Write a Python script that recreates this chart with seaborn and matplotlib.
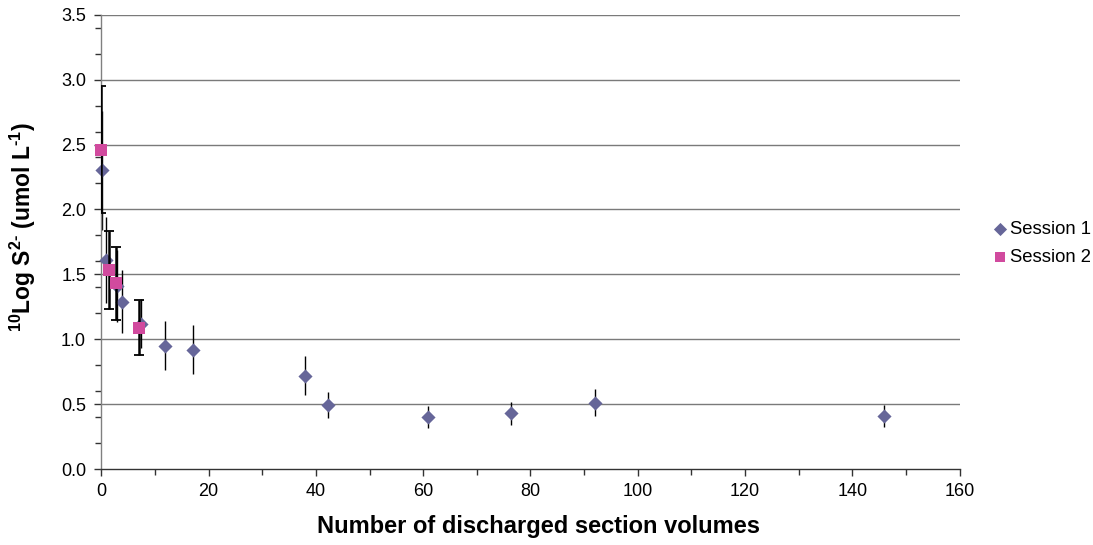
import matplotlib
matplotlib.use("Agg")
import matplotlib.pyplot as plt
from matplotlib.ticker import MultipleLocator, FormatStrFormatter
import seaborn as sns
import pandas as pd

# Sulphide concentration versus flushed section volumes, two sampling sessions
session1_x = [0.1, 0.9, 2.95, 3.9, 7.4, 11.85, 17.1, 38.0, 42.2, 60.9, 76.4, 92.1, 145.9]
session1_y = [2.30, 1.61, 1.41, 1.29, 1.12, 0.95, 0.92, 0.72, 0.49, 0.40, 0.43, 0.51, 0.41]
session1_err = [0.46, 0.33, 0.28, 0.24, 0.19, 0.19, 0.19, 0.15, 0.10, 0.083, 0.09, 0.105, 0.083]

session2_x = [0.0, 1.4, 2.65, 7.1]
session2_y = [2.46, 1.53, 1.43, 1.09]
session2_err = [0.49, 0.30, 0.28, 0.215]

series_names = ["Session 1", "Session 2"]
x_ticks = [0, 20, 40, 60, 80, 100, 120, 140, 160]
y_ticks = [0.0, 0.5, 1.0, 1.5, 2.0, 2.5, 3.0, 3.5]

df = pd.concat([
    pd.DataFrame({"x": session1_x, "y": session1_y, "err": session1_err, "session": series_names[0]}),
    pd.DataFrame({"x": session2_x, "y": session2_y, "err": session2_err, "session": series_names[1]}),
], ignore_index=True)

sns.set_style("white")
plt.rcParams["font.family"] = ["Liberation Sans", "DejaVu Sans"]
plt.rcParams["text.color"] = "black"
plt.rcParams["axes.labelcolor"] = "black"
plt.rcParams["xtick.labelcolor"] = "black"
plt.rcParams["ytick.labelcolor"] = "black"
plt.rcParams["mathtext.fontset"] = "custom"
plt.rcParams["mathtext.rm"] = "Liberation Sans:bold"
plt.rcParams["mathtext.bf"] = "Liberation Sans:bold"

fig = plt.figure(figsize=(10.93, 5.45), dpi=100)
ax = fig.add_axes([0.0927, 0.1394, 0.7853, 0.8336])

palette = {"Session 1": "#666699", "Session 2": "#D14A9E"}
markers = {"Session 1": "D", "Session 2": "s"}
sizes = {"Session 1": 7.2, "Session 2": 9.0}

# gridlines at every major y tick
for yv in y_ticks[1:]:
    ax.axhline(yv, color="#7a7a7a", lw=1.0, zorder=0)

z = 2
for name in series_names:
    sub = df[df["session"] == name]
    if name == "Session 1":
        ax.errorbar(sub["x"], sub["y"], yerr=sub["err"], fmt="none",
                    ecolor="black", elinewidth=1.0, capsize=0, zorder=z)
    else:
        ax.errorbar(sub["x"], sub["y"], yerr=sub["err"], fmt="none",
                    ecolor="black", elinewidth=1.8, capsize=3.5, capthick=1.3, zorder=z)
    sns.scatterplot(data=sub, x="x", y="y", marker=markers[name],
                    color=palette[name], s=sizes[name] ** 2, linewidth=0,
                    ax=ax, zorder=z + 1, label=name, clip_on=False)
    z += 2

ax.set_xlim(0, 160)
ax.set_ylim(0, 3.5)
ax.set_xticks(x_ticks)
ax.set_yticks(y_ticks)
ax.yaxis.set_major_formatter(FormatStrFormatter("%.1f"))
ax.xaxis.set_minor_locator(MultipleLocator(10))
ax.yaxis.set_minor_locator(MultipleLocator(0.2))
ax.tick_params(axis="both", which="major", labelsize=13, length=5, width=1,
               color="#333333", direction="out", labelcolor="black")
ax.tick_params(axis="y", which="major", pad=6)
ax.tick_params(axis="x", which="major", pad=5)
ax.tick_params(axis="both", which="minor", length=4, width=1, color="#333333",
               direction="out")
ax.tick_params(axis="x", which="both", bottom=True)
ax.tick_params(axis="y", which="both", left=True)

for side in ["top", "right"]:
    ax.spines[side].set_visible(False)
ax.spines["left"].set_color("#808080")
ax.spines["bottom"].set_color("#333333")
for side in ["left", "bottom"]:
    ax.spines[side].set_linewidth(1.0)

ax.set_xlabel("Number of discharged section volumes", fontsize=17,
              fontweight="bold", color="black")
ax.set_ylabel(r"$^{10}$Log S$^{2\text{-}}$ (umol L$^{\text{-}1}$)", fontsize=16.5,
              fontweight="bold", color="black")
ax.xaxis.set_label_coords(0.509, -0.101)
ax.yaxis.set_label_coords(-0.074, 0.532)

leg = ax.legend(loc="center left", bbox_to_anchor=(1.028, 0.496), frameon=False,
                fontsize=13.3, handletextpad=0.0, labelspacing=0.6,
                handlelength=1.0, borderaxespad=0.0)
for h in leg.legend_handles:
    h.set_sizes([45])
for t in leg.get_texts():
    t.set_color("black")

fig.savefig("out.png", dpi=100)
